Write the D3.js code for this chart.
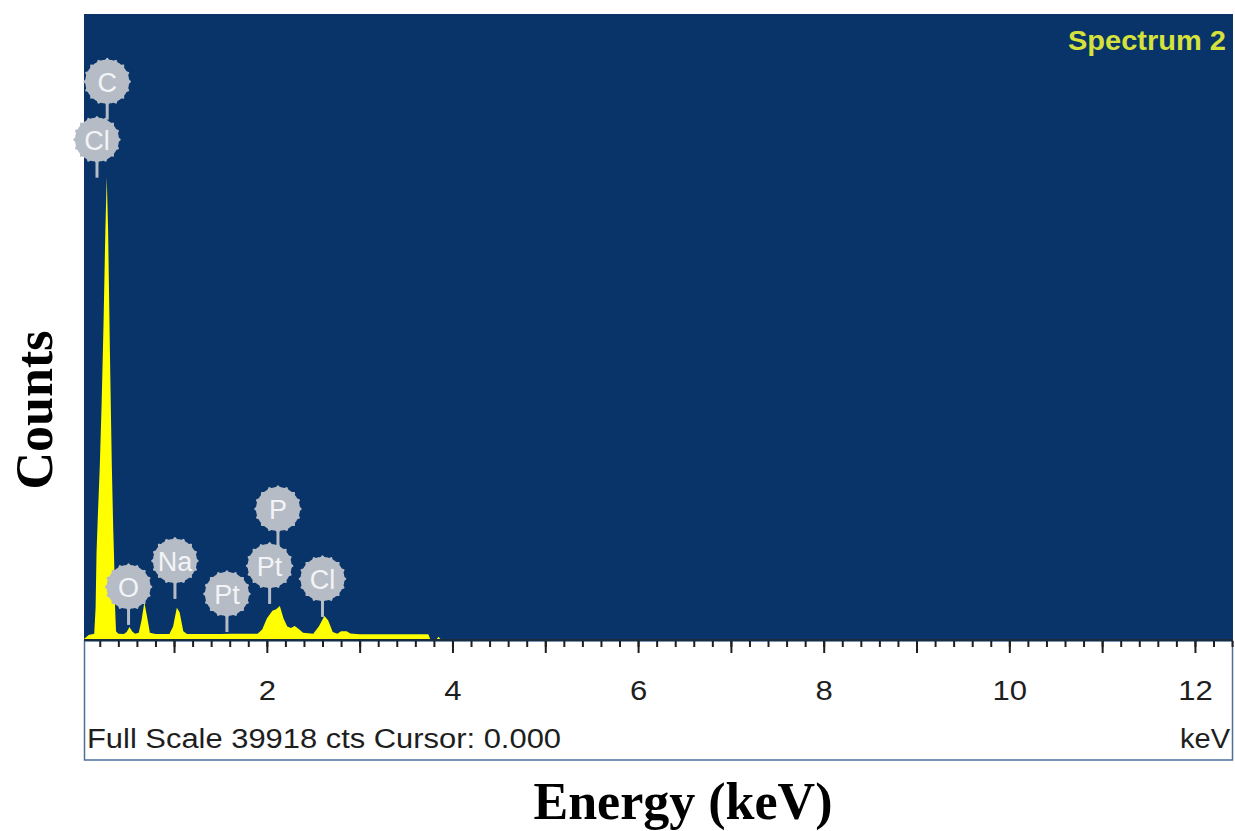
<!DOCTYPE html>
<html>
<head>
<meta charset="utf-8">
<script src="https://cdn.jsdelivr.net/npm/d3@7"></script>
<style>
  body { margin: 0; background: #ffffff; }
  svg { display: block; }
</style>
</head>
<body>
<script>
// spectrum: energy (keV) and counts
const energy = [0.03, 0.08, 0.14, 0.155, 0.165, 0.18, 0.20, 0.22, 0.24, 0.26, 0.275, 0.29, 0.31, 0.33, 0.345, 0.355, 0.365, 0.375, 0.40,
                0.46, 0.49, 0.52, 0.55, 0.58, 0.62, 0.65, 0.68, 0.71, 0.74, 0.80, 0.95, 0.99, 1.03, 1.06, 1.10, 1.14,
                1.5, 1.6, 1.9, 1.95, 2.0, 2.06, 2.1, 2.14, 2.18, 2.22, 2.26, 2.30, 2.34, 2.39, 2.50, 2.56, 2.62, 2.66, 2.71,
                2.76, 2.80, 2.86, 2.90, 3.0, 3.74, 3.76, 3.83, 3.85, 3.87, 12.41];
const counts = [0, 250, 330, 2000, 5500, 8000, 11000, 15000, 20000, 26000, 29460, 26000, 18000, 11000, 7000, 5000, 2000, 500, 330,
                320, 450, 760, 480, 340, 400, 1200, 2350, 1400, 400, 320, 320, 800, 2000, 1700, 500, 320,
                320, 330, 330, 600, 1300, 1800, 1900, 2100, 1300, 800, 700, 830, 650, 400, 330, 800, 1470, 1200, 450,
                330, 500, 500, 350, 310, 300, 0, 0, 150, 0, 0];

// element markers: name, line energy, bubble height in counts
const markNames = ['C', 'Cl', 'O', 'Na', 'Pt', 'Pt', 'P', 'Cl'];
const markEnergy = [0.28, 0.17, 0.51, 1.01, 1.57, 2.03, 2.12, 2.60];
const markCounts = [35540, 31840, 3320, 4980, 2870, 4660, 8290, 3830];

const fullScale = 39918;
const majorTicks = [1, 2, 3, 4, 5, 6, 7, 8, 9, 10, 11, 12];
const minorTicks = d3.range(1, 63).map(i => +(i * 0.2).toFixed(1));

const w = 1235;
const h = 831;
const plotLeft = 84, plotRight = 1233, plotTop = 14, plotBottom = 641, stripBottom = 760;

const xScale = d3.scaleLinear()
                 .domain([0.03, 12.41])
                 .range([plotLeft, plotRight]);
const yScale = d3.scaleLinear()
                 .domain([0, fullScale])
                 .range([639, 13]);

const svg = d3.select('body')
              .append('svg')
              .attr('width', w)
              .attr('height', h);

// blue plot area and white strip underneath
svg.append('rect')
   .attr('x', plotLeft).attr('y', plotTop)
   .attr('width', plotRight - plotLeft).attr('height', plotBottom - plotTop)
   .attr('fill', '#09346a');
svg.append('rect')
   .attr('x', plotLeft + 0.5).attr('y', plotBottom)
   .attr('width', plotRight - plotLeft - 1).attr('height', stripBottom - plotBottom)
   .attr('fill', '#ffffff')
   .attr('stroke', '#4d6f9e')
   .attr('stroke-width', 1.5);

// spectrum
const spec = energy.map((e, i) => [e, counts[i]]);
const area = d3.area()
               .x(d => xScale(d[0]))
               .y0(yScale(0))
               .y1(d => yScale(d[1]));
svg.append('path')
   .datum(spec)
   .attr('d', area)
   .attr('fill', '#ffff00');

svg.append('line')
   .attr('x1', plotLeft).attr('x2', plotRight)
   .attr('y1', plotBottom - 1).attr('y2', plotBottom - 1)
   .attr('stroke', '#1b2c3c')
   .attr('stroke-width', 2);

// ticks
const minorAxis = d3.axisBottom(xScale).tickValues(minorTicks).tickSize(6).tickFormat('');
const majorAxis = d3.axisBottom(xScale).tickValues(majorTicks).tickSize(12)
                    .tickFormat(d => d % 2 === 0 ? d : '');
[minorAxis, majorAxis].forEach(ax => {
  const g = svg.append('g')
               .attr('transform', 'translate(0,' + plotBottom + ')')
               .call(ax);
  g.select('.domain').remove();
  g.selectAll('line').attr('stroke', '#1e1e1e').attr('stroke-width', 2);
  g.selectAll('text')
   .attr('y', 0)
   .attr('dy', 0)
   .attr('transform', 'translate(0,59) scale(1.15,1)')
   .attr('fill', '#1e1e1e')
   .style('font-family', 'Liberation Sans, Arial, sans-serif')
   .style('font-size', '27px');
});

// element bubbles with little teeth round the edge
const bubbleR = 22;
const gear = d3.lineRadial()
               .curve(d3.curveCardinalClosed)
               .angle(d => d[0])
               .radius(d => d[1]);
const gearPts = d3.range(64).map(i => [i / 64 * 2 * Math.PI, bubbleR + (i % 4 === 0 ? 1.8 : 0)]);

markNames.forEach((name, i) => {
  const cx = xScale(markEnergy[i]);
  const cy = yScale(markCounts[i]);
  svg.append('line')
     .attr('x1', cx).attr('x2', cx)
     .attr('y1', cy).attr('y2', cy + bubbleR + 16)
     .attr('stroke', '#b6bcc6')
     .attr('stroke-width', 3);
  svg.append('path')
     .attr('d', gear(gearPts))
     .attr('transform', 'translate(' + cx + ',' + cy + ')')
     .attr('fill', '#b6bcc6');
  svg.append('text')
     .attr('x', cx).attr('y', cy + 10)
     .attr('text-anchor', 'middle')
     .attr('fill', '#f2f4f7')
     .style('font-family', 'Liberation Sans, Arial, sans-serif')
     .style('font-size', '27px')
     .text(name);
});

// texts
svg.append('text')
   .attr('x', 1068).attr('y', 50)
   .attr('textLength', 158)
   .attr('lengthAdjust', 'spacingAndGlyphs')
   .attr('fill', '#d6e23c')
   .style('font-family', 'Liberation Sans, Arial, sans-serif')
   .style('font-size', '27px')
   .style('font-weight', 'bold')
   .text('Spectrum 2');

svg.append('text')
   .attr('x', 87).attr('y', 748)
   .attr('textLength', 474)
   .attr('lengthAdjust', 'spacingAndGlyphs')
   .attr('fill', '#1e1e1e')
   .style('font-family', 'Liberation Sans, Arial, sans-serif')
   .style('font-size', '27px')
   .text('Full Scale 39918 cts Cursor: 0.000');

svg.append('text')
   .attr('x', 1180).attr('y', 748)
   .attr('textLength', 50)
   .attr('lengthAdjust', 'spacingAndGlyphs')
   .attr('fill', '#1e1e1e')
   .style('font-family', 'Liberation Sans, Arial, sans-serif')
   .style('font-size', '27px')
   .text('keV');

svg.append('text')
   .attr('transform', 'translate(52,410) rotate(-90)')
   .attr('text-anchor', 'middle')
   .style('font-family', 'Liberation Serif, Times New Roman, serif')
   .style('font-size', '52px')
   .style('font-weight', 'bold')
   .text('Counts');

svg.append('text')
   .attr('x', 683).attr('y', 819)
   .attr('text-anchor', 'middle')
   .style('font-family', 'Liberation Serif, Times New Roman, serif')
   .style('font-size', '52px')
   .style('font-weight', 'bold')
   .text('Energy (keV)');
</script>
</body>
</html>
